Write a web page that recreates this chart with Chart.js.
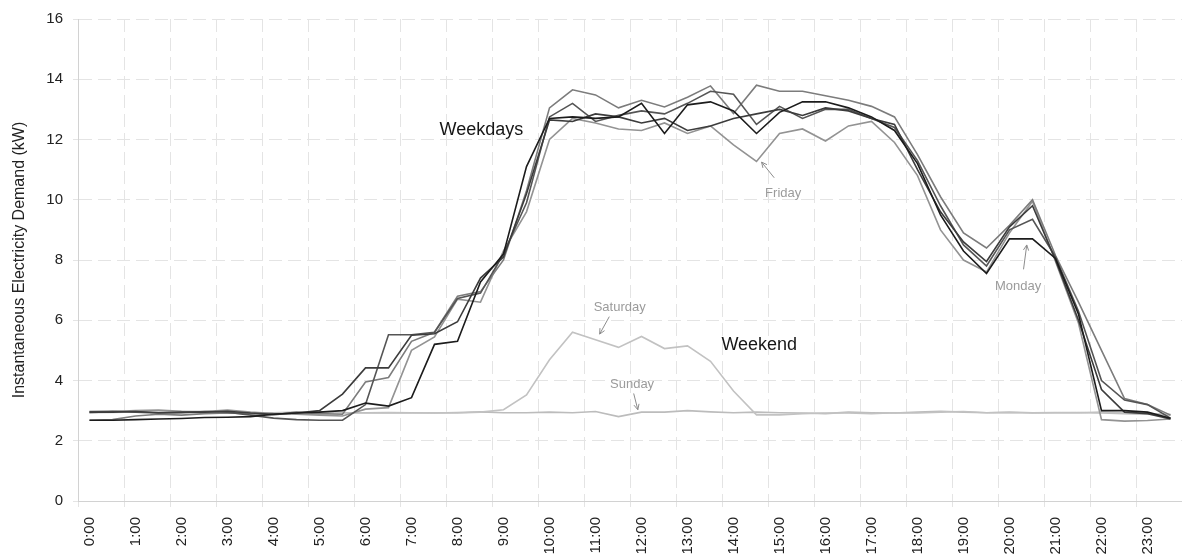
<!DOCTYPE html>
<html>
<head>
<meta charset="utf-8">
<title>Instantaneous electricity demand</title>
<script src="https://cdn.jsdelivr.net/npm/chart.js@4.4.1/dist/chart.umd.min.js"></script>
<style>
    html, body { margin: 0; padding: 0; background: #fff; }
    #wrap { width: 1182px; height: 560px; position: relative; }
</style>
</head>
<body>
<div id="wrap"><canvas id="demand"></canvas></div>
<script>
// Half-hourly categories (only the full hours get a label)
const times = [
    '0:00', '0:30', '1:00', '1:30', '2:00', '2:30', '3:00', '3:30',
    '4:00', '4:30', '5:00', '5:30', '6:00', '6:30', '7:00', '7:30',
    '8:00', '8:30', '9:00', '9:30', '10:00', '10:30', '11:00', '11:30',
    '12:00', '12:30', '13:00', '13:30', '14:00', '14:30', '15:00', '15:30',
    '16:00', '16:30', '17:00', '17:30', '18:00', '18:30', '19:00', '19:30',
    '20:00', '20:30', '21:00', '21:30', '22:00', '22:30', '23:00', '23:30'
];

// Demand in kW
const monday = [
    2.68, 2.68, 2.70, 2.72, 2.74, 2.77, 2.78, 2.80, 2.88, 2.92, 2.95, 3.00,
    3.25, 3.15, 3.43, 5.20, 5.30, 7.27, 8.20, 11.10, 12.70, 12.75, 12.70, 12.75,
    13.20, 12.20, 13.15, 13.25, 12.95, 12.20, 12.90, 13.25, 13.25, 13.05, 12.75, 12.30,
    11.20, 9.50, 8.30, 7.55, 8.70, 8.70, 8.05, 6.20, 3.00, 3.00, 2.95, 2.75
];
const tuesday = [
    2.95, 2.95, 2.97, 2.93, 2.95, 2.95, 2.98, 2.92, 2.88, 2.92, 3.00, 3.55,
    4.42, 4.42, 5.50, 5.55, 5.95, 7.40, 8.10, 10.20, 12.65, 12.60, 12.85, 12.75,
    12.55, 12.70, 12.30, 12.45, 12.70, 12.85, 13.00, 12.80, 13.05, 12.95, 12.70, 12.50,
    11.00, 9.60, 8.60, 7.95, 9.10, 9.80, 8.00, 6.00, 3.70, 2.95, 2.90, 2.72
];
const wednesday = [
    2.97, 2.98, 2.95, 2.92, 2.93, 2.97, 2.95, 2.85, 2.75, 2.70, 2.68, 2.68,
    3.20, 5.52, 5.52, 5.60, 6.72, 6.90, 8.20, 9.90, 12.75, 13.20, 12.60, 12.80,
    12.95, 12.85, 13.20, 13.60, 13.50, 12.50, 13.10, 12.70, 13.00, 13.00, 12.70, 12.40,
    11.30, 9.80, 8.50, 7.80, 9.00, 9.35, 8.10, 6.30, 4.00, 3.35, 3.20, 2.75
];
const thursday = [
    2.68, 2.70, 2.82, 2.88, 2.85, 2.90, 2.92, 2.90, 2.86, 2.95, 2.90, 2.88,
    3.95, 4.10, 5.30, 5.60, 6.80, 6.95, 8.00, 10.30, 13.05, 13.65, 13.48, 13.05,
    13.30, 13.08, 13.40, 13.78, 12.86, 13.80, 13.60, 13.60, 13.45, 13.30, 13.10, 12.75,
    11.50, 10.10, 8.90, 8.40, 9.15, 10.00, 8.15, 6.60, 5.00, 3.40, 3.20, 2.85
];
const friday = [
    2.93, 2.97, 3.00, 3.02, 2.98, 2.97, 3.02, 2.95, 2.90, 2.88, 2.85, 2.82,
    3.05, 3.10, 5.00, 5.45, 6.70, 6.60, 8.30, 9.60, 12.00, 12.70, 12.55, 12.35,
    12.30, 12.55, 12.20, 12.45, 11.82, 11.27, 12.20, 12.35, 11.95, 12.45, 12.60, 11.90,
    10.80, 9.00, 8.00, 7.60, 8.90, 9.95, 7.95, 5.90, 2.70, 2.65, 2.67, 2.72
];
const saturday = [
    2.95, 2.94, 2.96, 2.95, 2.97, 2.95, 2.94, 2.92, 2.93, 2.95, 2.94, 2.93,
    2.92, 2.93, 2.92, 2.93, 2.92, 2.95, 3.03, 3.52, 4.69, 5.60, 5.35, 5.10,
    5.46, 5.06, 5.15, 4.64, 3.65, 2.86, 2.86, 2.90, 2.92, 2.92, 2.90, 2.93,
    2.92, 2.95, 2.97, 2.93, 2.95, 2.93, 2.94, 2.93, 2.95, 2.92, 2.90, 2.88
];
const sunday = [
    2.93, 2.95, 2.95, 2.94, 2.93, 2.95, 2.96, 2.93, 2.92, 2.94, 2.95, 2.93,
    2.93, 2.94, 2.93, 2.92, 2.94, 2.96, 2.93, 2.93, 2.95, 2.93, 2.97, 2.80,
    2.95, 2.95, 3.00, 2.96, 2.93, 2.95, 2.93, 2.92, 2.90, 2.95, 2.93, 2.92,
    2.95, 2.98, 2.95, 2.93, 2.94, 2.92, 2.93, 2.94, 2.92, 2.90, 2.88, 2.85
];

// Text labels placed in data units: [category index, kW]
const notes = [
    { text: 'Weekdays', at: [17.04, 12.32], size: 18, color: '#161616' },
    { text: 'Weekend', at: [29.12, 5.19], size: 18, color: '#161616' },
    { text: 'Friday', at: [30.16, 10.22], size: 13, color: '#9b9b9b' },
    { text: 'Monday', at: [40.37, 7.11], size: 13, color: '#9b9b9b' },
    { text: 'Saturday', at: [23.05, 6.42], size: 13, color: '#9b9b9b' },
    { text: 'Sunday', at: [23.59, 3.87], size: 13, color: '#9b9b9b' }
];
const arrows = [
    { from: [29.77, 10.73], to: [29.22, 11.25] },
    { from: [40.61, 7.69], to: [40.75, 8.50] },
    { from: [22.60, 6.12], to: [22.18, 5.54] },
    { from: [23.66, 3.57], to: [23.84, 3.03] }
];

const fontFamily = "'Liberation Sans', Arial, sans-serif";
const gridColour = '#e4e4e4';
const axisColour = '#d2d2d2';
Chart.defaults.font.family = fontFamily;

const notesPlugin = {
    id: 'notes',
    afterDatasetsDraw(chart) {
        const { ctx } = chart;
        const xs = chart.scales.x;
        const ys = chart.scales.y;
        ctx.save();
        ctx.textAlign = 'center';
        ctx.textBaseline = 'middle';
        notes.forEach(n => {
            ctx.font = `${n.size}px ${fontFamily}`;
            ctx.fillStyle = n.color;
            ctx.fillText(n.text, xs.getPixelForValue(n.at[0]), ys.getPixelForValue(n.at[1]));
        });

        ctx.strokeStyle = '#8c8c8c';
        ctx.lineWidth = 1;
        arrows.forEach(a => {
            const x1 = xs.getPixelForValue(a.from[0]);
            const y1 = ys.getPixelForValue(a.from[1]);
            const x2 = xs.getPixelForValue(a.to[0]);
            const y2 = ys.getPixelForValue(a.to[1]);
            const ang = Math.atan2(y2 - y1, x2 - x1);
            const head = 6;
            ctx.beginPath();
            ctx.moveTo(x1, y1);
            ctx.lineTo(x2, y2);
            ctx.moveTo(x2 - head * Math.cos(ang - 0.45), y2 - head * Math.sin(ang - 0.45));
            ctx.lineTo(x2, y2);
            ctx.lineTo(x2 - head * Math.cos(ang + 0.45), y2 - head * Math.sin(ang + 0.45));
            ctx.stroke();
        });
        ctx.restore();
    }
};

function serie(label, data, colour) {
    return {
        label: label,
        data: data,
        borderColor: colour,
        backgroundColor: colour,
        borderWidth: 1.6,
        pointRadius: 0,
        tension: 0,
        fill: false
    };
}

const ctx = document.getElementById('demand').getContext('2d');
new Chart(ctx, {
    type: 'line',
    data: {
        labels: times,
        datasets: [
            serie('Monday', monday, '#1c1c1c'),
            serie('Tuesday', tuesday, '#3c3c3c'),
            serie('Wednesday', wednesday, '#555555'),
            serie('Thursday', thursday, '#7c7c7c'),
            serie('Friday', friday, '#939393'),
            serie('Saturday', saturday, '#c2c2c2'),
            serie('Sunday', sunday, '#bcbcbc')
        ]
    },
    options: {
        responsive: true,
        maintainAspectRatio: false,
        animation: false,
        layout: { padding: { top: 15, right: -3, bottom: 0, left: 0 } },
        plugins: {
            legend: { display: false },
            tooltip: { enabled: false }
        },
        scales: {
            x: {
                offset: true,
                grid: {
                    offset: true,
                    color: c => (c.index % 2 === 0 ? gridColour : 'rgba(0,0,0,0)'),
                    tickLength: 6
                },
                border: { display: true, color: axisColour, dash: [13, 6] },
                ticks: {
                    autoSkip: false,
                    maxRotation: 90,
                    minRotation: 90,
                    padding: 10,
                    color: '#222',
                    font: { size: 15 },
                    callback: function (value, index) {
                        return index % 2 === 0 ? this.getLabelForValue(value) : '';
                    }
                },
                afterFit: scale => {
                    scale.height = 59;
                    scale.paddingLeft = 0;
                    scale.paddingRight = 0;
                }
            },
            y: {
                min: 0,
                max: 16,
                grid: { color: gridColour, tickLength: 5 },
                border: { display: true, color: axisColour, dash: [13, 6] },
                ticks: {
                    stepSize: 2,
                    padding: 10,
                    color: '#222',
                    font: { size: 15 }
                },
                title: {
                    display: true,
                    text: 'Instantaneous Electricity Demand (kW)',
                    color: '#222',
                    font: { size: 16 },
                    padding: { top: 10, bottom: 0 }
                },
                afterFit: scale => { scale.width = 78; }
            }
        }
    },
    plugins: [notesPlugin]
});
</script>
</body>
</html>
